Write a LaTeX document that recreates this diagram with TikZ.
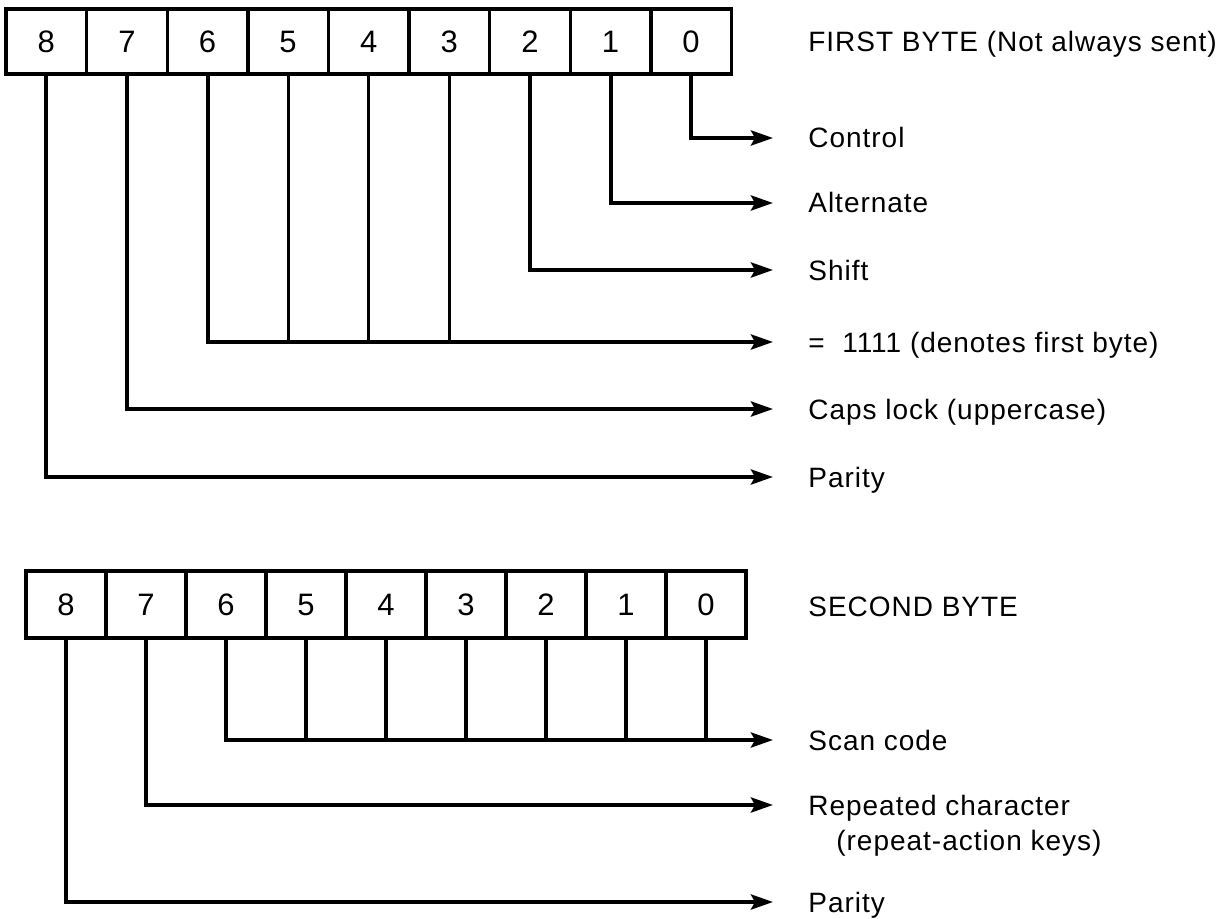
\documentclass[tikz,border=0pt]{standalone}
\usepackage{fontspec}
\setmainfont{Liberation Sans}
\newfontfamily\lblfont{Liberation Sans}[LetterSpace=3.5]
\usetikzlibrary{arrows.meta,positioning}

\begin{document}
\begin{tikzpicture}[
  x=0.5pt,y=-0.5pt,
  bitbox/.style={draw,line width=1.7pt,minimum width=40.3pt,minimum height=32.5pt,inner sep=0pt,outer sep=0pt,font=\fontsize{15.5}{15.5}\selectfont},
  bitboxb/.style={bitbox,minimum width=40pt,minimum height=33.5pt},
  lbl/.style={anchor=west,inner sep=0pt,text height=10pt,text depth=0pt,font=\lblfont\fontsize{14}{17}\selectfont},
  wire/.style={line width=1.6pt},
  arr/.style={line width=2pt,-{Stealth[length=11pt,width=7.5pt,inset=2pt]},shorten >=17.5pt}
]
\fill[white] (0,0) rectangle (1229,919);

% first byte
\node[bitbox] (f8) at (46.3,41.5) {8};
\foreach \b [remember=\b as \p (initially 8)] in {7,...,0}
  \node[bitbox,right=0pt of f\p] (f\b) {\b};
\node[lbl] (first) at (808,42) {FIRST BYTE (Not always sent)};
\node[lbl] (ctrl) at (808,138) {Control};
\node[lbl] (alt) at (808,203) {Alternate};
\node[lbl] (shift) at (808,270) {Shift};
\node[lbl] (ones) at (808,342) {= \ 1111 (denotes first byte)};
\node[lbl] (caps) at (808,409) {Caps lock (uppercase)};
\node[lbl] (par1) at (808,477) {Parity};

\draw[arr] (f0.south) |- (ctrl.west);
\draw[arr] (f1.south) |- (alt.west);
\draw[arr] (f2.south) |- (shift.west);
\draw[arr] (f6.south) |- (ones.west);
\foreach \b in {5,4,3}
  \draw[wire] (f\b.south) -- (f\b.south |- ones.west);
\draw[arr] (f7.south) |- (caps.west);
\draw[arr] (f8.south) |- (par1.west);

% second byte
\node[bitboxb] (s8) at (66,604.5) {8};
\foreach \b [remember=\b as \p (initially 8)] in {7,...,0}
  \node[bitboxb,right=0pt of s\p] (s\b) {\b};
\node[lbl] (second) at (808,606) {SECOND BYTE};
\node[lbl] (scan) at (808,740) {Scan code};
\node[lbl] (rep) at (808,805) {Repeated character};
\node[lbl] (repkeys) at (836,840) {(repeat-action keys)};
\node[lbl] (par2) at (808,902) {Parity};

\draw[arr] (s6.south) |- (scan.west);
\foreach \b in {5,...,0}
  \draw[wire] (s\b.south) -- (s\b.south |- scan.west);
\draw[arr] (s7.south) |- (rep.west);
\draw[arr] (s8.south) |- (par2.west);
\end{tikzpicture}
\end{document}
